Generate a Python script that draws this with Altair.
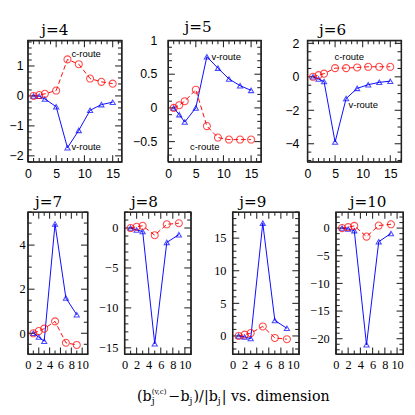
import altair as alt
import numpy as np
import pandas as pd

# ---------------- data ----------------
TOP_DIMS = [1, 2, 3, 5, 7, 9, 11, 13, 15]
BOT_DIMS = [1, 2, 3, 5, 7, 9]

C_J4 = [0.0, 0.03, 0.07, 0.18, 1.22, 1.06, 0.58, 0.47, 0.41]
V_J4 = [0.0, -0.01, -0.10, -0.36, -1.73, -1.15, -0.48, -0.29, -0.21]
C_J5 = [0.0, 0.04, 0.10, 0.27, -0.27, -0.44, -0.47, -0.47, -0.47]
V_J5 = [0.0, -0.10, -0.21, 0.0, 0.76, 0.59, 0.43, 0.33, 0.26]
C_J6 = [0.0, 0.10, 0.19, 0.52, 0.52, 0.56, 0.60, 0.60, 0.60]
V_J6 = [0.0, -0.13, -0.28, -3.90, -1.30, -0.69, -0.47, -0.33, -0.26]
C_J7 = [0.0, 0.10, 0.21, 0.54, -0.43, -0.53]
V_J7 = [0.0, -0.17, -0.36, 4.96, 1.60, 0.84]
C_J8 = [0.0, 0.16, 0.28, -0.90, 0.47, 0.60]
V_J8 = [0.0, -0.24, -0.43, -14.5, -1.80, -0.83]
C_J9 = [0.0, 0.20, 0.44, 1.46, -0.30, -0.50]
V_J9 = [0.0, -0.15, -0.40, 17.3, 2.38, 1.17]
C_J10 = [0.0, 0.17, 0.40, -1.54, 0.46, 0.69]
V_J10 = [0.0, -0.17, -0.46, -21.1, -2.46, -0.97]

TOP_XLABELS = [0, 5, 10, 15]
BOT_XLABELS = [0, 2, 4, 6, 8, 10]
Y_LABELS = {
    4: [-2, -1, 0, 1],
    5: [-0.5, 0, 0.5, 1],
    6: [-4, -2, 0, 2],
    7: [0, 2, 4],
    8: [-15, -10, -5, 0],
    9: [0, 5, 10, 15],
    10: [-20, -15, -10, -5, 0],
}
ROUTE_LABELS = ["c-route", "v-route"]
CAPTION_WORDS = " vs. dimension"

RED = "#ff0000"
BLUE = "#0000ff"
INK = "#222222"


def minor_ticks(lo, hi, step, majors):
    vals = np.round(np.arange(np.ceil(lo / step) * step, hi + 1e-9, step), 6)
    return [float(v) for v in vals if all(abs(v - m) > 1e-6 for m in majors)]


def label_axis(orient, values, font, fs, pad):
    return alt.Axis(orient=orient, values=values, ticks=False, domain=False, grid=False,
                    title=None, labelFont=font, labelFontSize=fs, labelPadding=pad,
                    labelColor="black", labelOverlap=False, labelFlush=False, format="~r")


def panel(j, dims, cv, vv, cfg):
    W, H = cfg["w"], cfg["h"]
    x0, x1 = cfg["xdom"]
    y0, y1 = cfg["ydom"]
    xs = alt.Scale(domain=[x0, x1], nice=False, zero=False)
    ys = alt.Scale(domain=[y0, y1], nice=False, zero=False)
    font, fs = cfg["font"], cfg["fs"]
    xmaj = cfg["xlab"]
    xmin = minor_ticks(x0, x1, 1, xmaj)
    ymaj = Y_LABELS[j]
    ymin = minor_ticks(y0, y1, cfg["ystep"], ymaj)
    Xn = lambda f: alt.X(f, scale=xs, axis=None)
    Yn = lambda f: alt.Y(f, scale=ys, axis=None)

    # frame (closed outline of the plot area) and inward ticks, drawn as short lines
    frame = pd.DataFrame({"x": [x0, x1, x1, x0, x0], "y": [y0, y0, y1, y1, y0],
                          "o": [0, 1, 2, 3, 4]})
    dxp = (x1 - x0) / W
    dyp = (y1 - y0) / H
    rows = []
    k = 0
    for vals, L in [(xmaj, 7), (xmin, 4)]:
        for v in vals:
            for ya, yb in [(y0, y0 + L * dyp), (y1, y1 - L * dyp)]:
                rows += [{"id": k, "o": 0, "x": v, "y": ya}, {"id": k, "o": 1, "x": v, "y": yb}]
                k += 1
    for vals, L in [(ymaj, 7), (ymin, 4)]:
        for v in vals:
            for xa, xb in [(x0, x0 + L * dxp), (x1, x1 - L * dxp)]:
                rows += [{"id": k, "o": 0, "x": xa, "y": v}, {"id": k, "o": 1, "x": xb, "y": v}]
                k += 1
    ticks = pd.DataFrame(rows)

    df = pd.DataFrame({"x": dims, "c": cv, "v": vv})
    base = alt.Chart(df)
    layers = [
        base.mark_line(color=BLUE, strokeWidth=1).encode(
            x=alt.X("x:Q", scale=xs, axis=label_axis("bottom", xmaj, font, fs, cfg["xpad"])),
            y=alt.Y("v:Q", scale=ys, axis=label_axis("left", ymaj, font, fs, cfg["ypad"]))),
        alt.Chart(frame).mark_line(color=INK, strokeWidth=1.4).encode(
            x=Xn("x:Q"), y=Yn("y:Q"), order="o:Q"),
        alt.Chart(ticks).mark_line(color=INK, strokeWidth=1.1).encode(
            x=Xn("x:Q"), y=Yn("y:Q"), detail="id:N", order="o:Q"),
        base.mark_line(color=RED, strokeWidth=1, strokeDash=[5, 3]).encode(
            x=Xn("x:Q"), y=Yn("c:Q")),
        base.mark_point(shape="triangle-up", filled=False, color=BLUE, size=30,
                        strokeWidth=1.1).encode(x=Xn("x:Q"), y=Yn("v:Q")),
        base.mark_point(shape="circle", filled=False, color=RED, size=55,
                        strokeWidth=1.1).encode(x=Xn("x:Q"), y=Yn("c:Q")),
    ]
    if cfg.get("ann"):
        adf = pd.DataFrame({"t": ROUTE_LABELS,
                            "x": [p[0] for p in cfg["ann"]],
                            "y": [p[1] for p in cfg["ann"]]})
        layers.append(alt.Chart(adf).mark_text(font="Liberation Sans", fontSize=10,
                                               color="black").encode(
            x=Xn("x:Q"), y=Yn("y:Q"), text="t:N"))
    return alt.layer(*layers).resolve_axis(x="independent", y="independent").properties(
        width=W, height=H,
        title=alt.TitleParams(text=f"j={j}", anchor="start", dx=cfg["tdx"],
                              font="DejaVu Serif", fontSize=16, fontWeight="normal",
                              color="black", offset=0))


top_common = dict(h=128, font="Liberation Sans", fs=13, xlab=TOP_XLABELS, xpad=7)
bot_common = dict(h=150, font="Liberation Serif", fs=13, xlab=BOT_XLABELS, xpad=5, xdom=[0, 11])

p4 = panel(4, TOP_DIMS, C_J4, V_J4, dict(top_common, w=99, xdom=[0, 16.6], ydom=[-2.2, 1.85],
                                          ystep=0.2, ypad=5, tdx=34,
                                          ann=[(10.3, 1.4), (10.3, -1.71)]))
p5 = panel(5, TOP_DIMS, C_J5, V_J5, dict(top_common, w=98, xdom=[0, 16.8], ydom=[-0.8, 1.0],
                                          ystep=0.1, ypad=12, tdx=55,
                                          ann=[(6.6, -0.585), (10.5, 0.76)]))
p6 = panel(6, TOP_DIMS, C_J6, V_J6, dict(top_common, w=99, xdom=[0, 17.0], ydom=[-5.08, 2.17],
                                          ystep=0.5, ypad=9, tdx=36,
                                          ann=[(7.55, 1.17), (10.1, -1.71)]))
p7 = panel(7, BOT_DIMS, C_J7, V_J7, dict(bot_common, w=63, ydom=[-0.95, 5.5], ystep=0.5,
                                          ypad=3, tdx=17))
p8 = panel(8, BOT_DIMS, C_J8, V_J8, dict(bot_common, w=70, ydom=[-15.8, 2.0], ystep=1,
                                          ypad=7, tdx=34))
p9 = panel(9, BOT_DIMS, C_J9, V_J9, dict(bot_common, w=70, ydom=[-2.8, 19.0], ystep=1,
                                          ypad=7, tdx=27))
p10 = panel(10, BOT_DIMS, C_J10, V_J10, dict(bot_common, w=71, ydom=[-22.8, 2.9], ystep=1,
                                             ypad=7, tdx=42))

top_row = alt.hconcat(alt.hconcat(p4, p5, spacing=6), p6, spacing=20)
bot_row = alt.hconcat(alt.hconcat(p7, p8, spacing=7), alt.hconcat(p9, p10, spacing=7), spacing=19)

# ---------------- caption with sub/superscripts ----------------
ADV = {" ": 0.318, "(": 0.390, ")": 0.390, ",": 0.318, ".": 0.318, "/": 0.337, "|": 0.337,
       "b": 0.640, "c": 0.560, "d": 0.640, "e": 0.592, "i": 0.320, "j": 0.320, "m": 0.948,
       "n": 0.644, "o": 0.602, "s": 0.514, "v": 0.592, "\u2212": 0.838}


def tw(s, f):
    return sum(ADV.get(ch, 0.6) for ch in s) * f


BASE, SUB, SUP = 15, 10, 7.5
pieces = [("(b", BASE, 0, None), ("j", SUB, 4, ("(v,c)", SUP, -7)), ("\u2212b", BASE, 0, None),
          ("j", SUB, 4, None), (")/|b", BASE, 0, None), ("j", SUB, 4, None),
          ("|" + CAPTION_WORDS, BASE, 0, None)]
total = 0
for t, f, dy, extra in pieces:
    w = tw(t, f) + (1 if f == SUB else 0)
    if extra:
        w = max(w, tw(extra[0], extra[1]) + 1)
    total += w
cx, by = 217, 29
x = cx - total / 2
rows = []
for t, f, dy, extra in pieces:
    rows.append({"t": t, "px": x, "py": by + dy, "fs": f})
    w = tw(t, f) + (1 if f == SUB else 0)
    if extra:
        rows.append({"t": extra[0], "px": x, "py": by + extra[2], "fs": extra[1]})
        w = max(w, tw(extra[0], extra[1]) + 1)
    x += w
cap_df = pd.DataFrame(rows)
caption = alt.Chart(cap_df).mark_text(font="DejaVu Serif", align="left", baseline="alphabetic",
                                      color="black").encode(
    x=alt.X("px:Q", scale=None, axis=None),
    y=alt.Y("py:Q", scale=None, axis=None),
    text="t:N",
    size=alt.Size("fs:Q", scale=None, legend=None),
).properties(width=380, height=33, view=alt.ViewBackground(stroke="transparent"))

chart = alt.vconcat(alt.vconcat(top_row, bot_row, spacing=12), caption, spacing=0).properties(
    padding={"left": 0, "top": 0, "right": 0, "bottom": 0}
).configure_view(stroke=INK, strokeWidth=1.3)

chart.save("out.html", embed_options={"renderer": "svg", "actions": False})
